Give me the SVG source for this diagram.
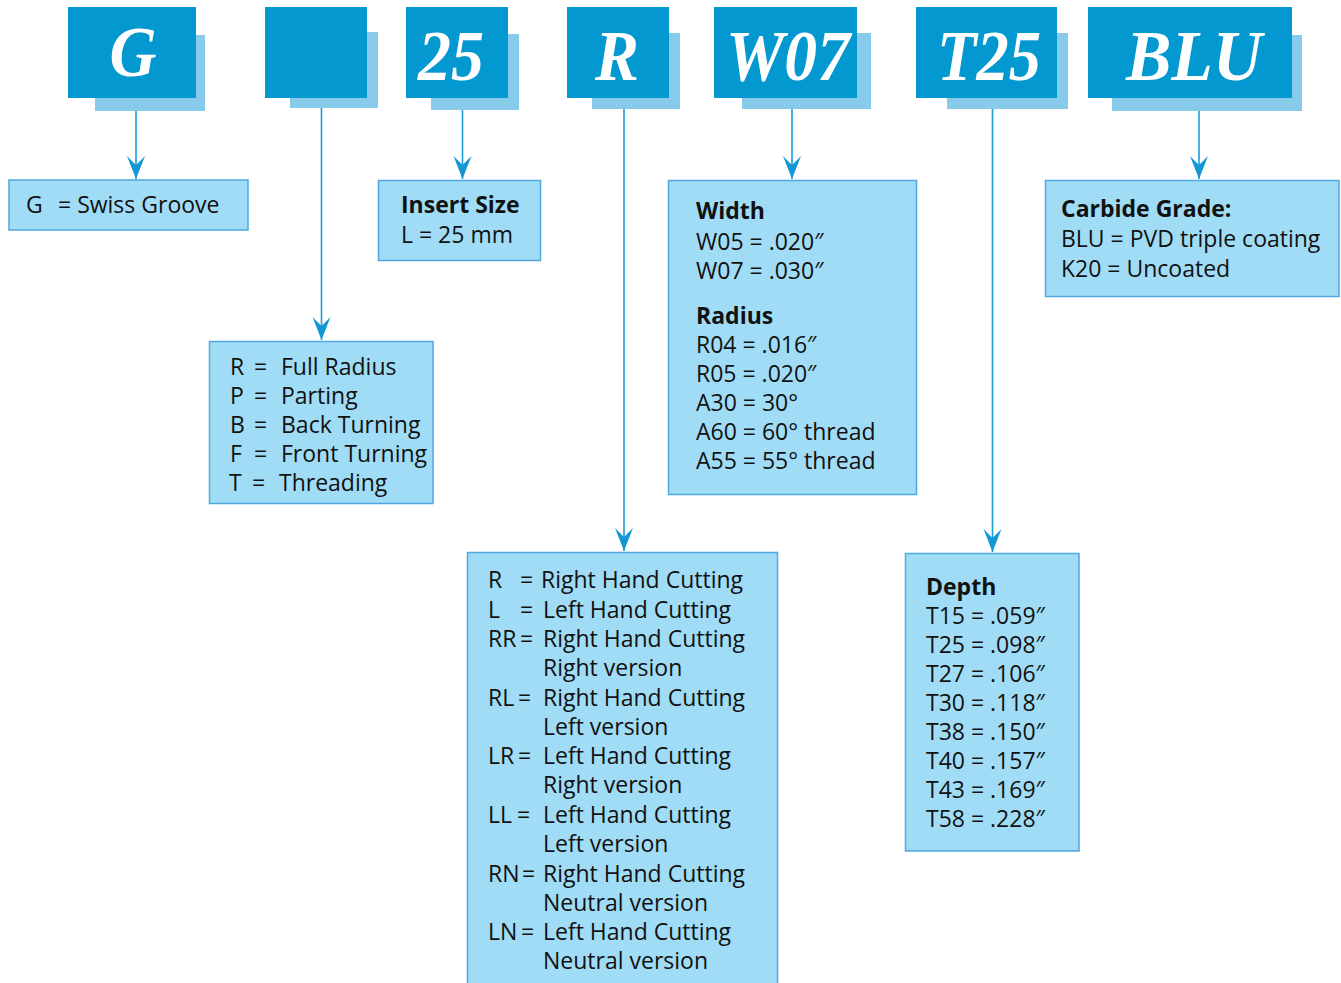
<svg xmlns="http://www.w3.org/2000/svg" width="1341" height="983" viewBox="0 0 1341 983">
<defs>
<style>
.hd{fill:#0398D0}
.sh{fill:#87CAE9}
.ht{fill:#fff;font-family:"Liberation Serif","Times New Roman",serif;font-weight:bold;font-style:italic;font-size:72px;text-anchor:middle}
.bx{fill:#A0DCF6;stroke:#4FA8E0;stroke-width:1.5}
.t{font-family:"Open Sans","Noto Sans",sans-serif;font-size:23px;fill:#111}
.b{font-weight:bold}
.cn{stroke:#1E9BD7;stroke-width:1.6;fill:none}
</style>
<marker id="arr" markerUnits="userSpaceOnUse" viewBox="-24 -10 25 20" markerWidth="25" markerHeight="20" refX="0" refY="0" orient="auto">
<path d="M0,0 L-23,-9 L-14,0 L-23,9 Z" fill="#1298D4"/>
</marker>
</defs>
<rect width="1341" height="983" fill="#fff"/>

<g id="connectors">
<line class="cn" x1="136" y1="111" x2="136" y2="179" marker-end="url(#arr)"/>
<line class="cn" x1="321.5" y1="108" x2="321.5" y2="340" marker-end="url(#arr)"/>
<line class="cn" x1="462.5" y1="110" x2="462.5" y2="179" marker-end="url(#arr)"/>
<line class="cn" x1="624" y1="109" x2="624" y2="551" marker-end="url(#arr)"/>
<line class="cn" x1="792" y1="109" x2="792" y2="179" marker-end="url(#arr)"/>
<line class="cn" x1="992.5" y1="109" x2="992.5" y2="552" marker-end="url(#arr)"/>
<line class="cn" x1="1199" y1="111" x2="1199" y2="179" marker-end="url(#arr)"/>
</g>

<g id="hdr-G">
<rect class="sh" x="95" y="35" width="110" height="76"/>
<rect class="hd" x="68" y="7" width="128" height="91"/>
<text class="ht" x="133" y="76" textLength="47" lengthAdjust="spacingAndGlyphs">G</text>
</g>
<g id="hdr-blank">
<rect class="sh" x="290" y="32" width="88" height="76"/>
<rect class="hd" x="265" y="7" width="102" height="91"/>
</g>
<g id="hdr-25">
<rect class="sh" x="431" y="34" width="88" height="76"/>
<rect class="hd" x="406" y="7" width="102" height="91"/>
<text class="ht" x="451" y="80" textLength="66" lengthAdjust="spacingAndGlyphs">25</text>
</g>
<g id="hdr-R">
<rect class="sh" x="592" y="33" width="88" height="76"/>
<rect class="hd" x="567" y="7" width="102" height="91"/>
<text class="ht" x="617" y="80" textLength="44" lengthAdjust="spacingAndGlyphs">R</text>
</g>
<g id="hdr-W07">
<rect class="sh" x="742" y="33" width="129" height="76"/>
<rect class="hd" x="714" y="7" width="143" height="91"/>
<text class="ht" x="788" y="80" textLength="124" lengthAdjust="spacingAndGlyphs">W07</text>
</g>
<g id="hdr-T25">
<rect class="sh" x="947" y="33" width="121" height="76"/>
<rect class="hd" x="916" y="7" width="141" height="91"/>
<text class="ht" x="989" y="80" textLength="104" lengthAdjust="spacingAndGlyphs">T25</text>
</g>
<g id="hdr-BLU">
<rect class="sh" x="1112" y="35" width="190" height="76"/>
<rect class="hd" x="1088" y="7" width="204" height="91"/>
<text class="ht" x="1194" y="80" textLength="136" lengthAdjust="spacingAndGlyphs">BLU</text>
</g>

<g id="box-G">
<rect class="bx" x="9" y="180" width="239" height="50"/>
<text class="t" x="26" y="213">G</text>
<text class="t" x="58" y="213">= Swiss Groove</text>
</g>

<g id="box-type">
<rect class="bx" x="209.5" y="341.5" width="223.5" height="162"/>
<text class="t" x="230" y="375">R</text><text class="t" x="254" y="375">=</text><text class="t" x="281" y="375">Full Radius</text>
<text class="t" x="230" y="404">P</text><text class="t" x="254" y="404">=</text><text class="t" x="281" y="404">Parting</text>
<text class="t" x="230" y="433">B</text><text class="t" x="254" y="433">=</text><text class="t" x="281" y="433">Back Turning</text>
<text class="t" x="230" y="462">F</text><text class="t" x="254" y="462">=</text><text class="t" x="281" y="462">Front Turning</text>
<text class="t" x="229" y="491">T</text><text class="t" x="252" y="491">=</text><text class="t" x="279" y="491">Threading</text>
</g>

<g id="box-size">
<rect class="bx" x="378.5" y="180.5" width="162" height="80"/>
<text class="t b" x="401" y="213">Insert Size</text>
<text class="t" x="401" y="243">L = 25 mm</text>
</g>

<g id="box-hand">
<rect class="bx" x="467.5" y="552.5" width="310" height="440"/>
<text class="t" x="488" y="588">R</text><text class="t" x="520" y="588">=</text><text class="t" x="541" y="588">Right Hand Cutting</text>
<text class="t" x="488" y="618">L</text><text class="t" x="520" y="618">=</text><text class="t" x="543" y="618">Left Hand Cutting</text>
<text class="t" x="488" y="647">RR</text><text class="t" x="520" y="647">=</text><text class="t" x="543" y="647">Right Hand Cutting</text>
<text class="t" x="543" y="676">Right version</text>
<text class="t" x="488" y="706">RL</text><text class="t" x="518" y="706">=</text><text class="t" x="543" y="706">Right Hand Cutting</text>
<text class="t" x="543" y="735">Left version</text>
<text class="t" x="488" y="764">LR</text><text class="t" x="518" y="764">=</text><text class="t" x="543" y="764">Left Hand Cutting</text>
<text class="t" x="543" y="793">Right version</text>
<text class="t" x="488" y="823">LL</text><text class="t" x="517" y="823">=</text><text class="t" x="543" y="823">Left Hand Cutting</text>
<text class="t" x="543" y="852">Left version</text>
<text class="t" x="488" y="882">RN</text><text class="t" x="522" y="882">=</text><text class="t" x="543" y="882">Right Hand Cutting</text>
<text class="t" x="543" y="911">Neutral version</text>
<text class="t" x="488" y="940">LN</text><text class="t" x="521" y="940">=</text><text class="t" x="543" y="940">Left Hand Cutting</text>
<text class="t" x="543" y="969">Neutral version</text>
</g>

<g id="box-width">
<rect class="bx" x="668.5" y="180.5" width="248" height="314"/>
<text class="t b" x="696" y="219">Width</text>
<text class="t" x="696" y="250">W05 = .020″</text>
<text class="t" x="696" y="279">W07 = .030″</text>
<text class="t b" x="696" y="324">Radius</text>
<text class="t" x="696" y="353">R04 = .016″</text>
<text class="t" x="696" y="382">R05 = .020″</text>
<text class="t" x="696" y="411">A30 = 30°</text>
<text class="t" x="696" y="440">A60 = 60° thread</text>
<text class="t" x="696" y="469">A55 = 55° thread</text>
</g>

<g id="box-depth">
<rect class="bx" x="905.5" y="553.5" width="173.5" height="297.5"/>
<text class="t b" x="926" y="595">Depth</text>
<text class="t" x="926" y="624">T15 = .059″</text>
<text class="t" x="926" y="653">T25 = .098″</text>
<text class="t" x="926" y="682">T27 = .106″</text>
<text class="t" x="926" y="711">T30 = .118″</text>
<text class="t" x="926" y="740">T38 = .150″</text>
<text class="t" x="926" y="769">T40 = .157″</text>
<text class="t" x="926" y="798">T43 = .169″</text>
<text class="t" x="926" y="827">T58 = .228″</text>
</g>

<g id="box-grade">
<rect class="bx" x="1045.5" y="180.5" width="293.5" height="116"/>
<text class="t b" x="1061" y="217">Carbide Grade:</text>
<text class="t" x="1061" y="247">BLU = PVD triple coating</text>
<text class="t" x="1061" y="277">K20 = Uncoated</text>
</g>
</svg>
